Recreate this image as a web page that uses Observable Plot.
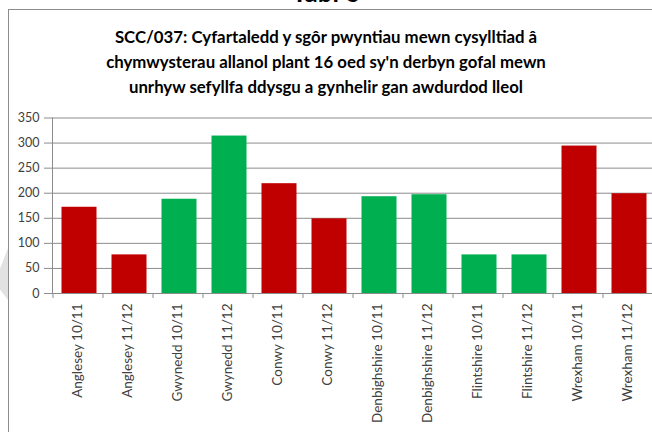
<!DOCTYPE html>
<html>
<head>
<meta charset="utf-8">
<script src="https://cdn.jsdelivr.net/npm/d3@7"></script>
<script src="https://cdn.jsdelivr.net/npm/@observablehq/plot@0.6"></script>
<style>
  html, body { margin: 0; padding: 0; background: #fff; }
  #wrap { position: relative; width: 652px; height: 432px; overflow: hidden; background: #fff; font-family: Lato, "Open Sans", sans-serif; }
  #tabl { position: absolute; left: 0; width: 652px; top: -23px; text-align: center; font-weight: bold; font-size: 26px; color: #000; line-height: 30px; }
  #box { position: absolute; left: 8px; top: 9px; width: 700px; height: 500px; border: 1px solid #8c8c8c; box-sizing: border-box; background: #fff; }
  #curl { position: absolute; left: 0; top: 248px; width: 8px; height: 52px; background: #e2e2e2; clip-path: polygon(0 40%, 100% 0, 100% 100%, 0 80%); }
  #title { position: absolute; left: 0; top: 24px; width: 652px; text-align: center; font-weight: bold; font-size: 16.8px; line-height: 25px; color: #000; }
  #chart { position: absolute; left: 0; top: 100px; }
</style>
</head>
<body>
<div id="wrap">
  <div id="tabl">Tabl 6</div>
  <div id="box"></div>
  <div id="curl"></div>
  <div id="title">SCC/037: Cyfartaledd y sgôr pwyntiau mewn cysylltiad â<br>chymwysterau allanol plant 16 oed sy'n derbyn gofal mewn<br>unrhyw sefyllfa ddysgu a gynhelir gan awdurdod lleol</div>
  <div id="chart"></div>
</div>
<script>
const categories = ["Anglesey 10/11", "Anglesey 11/12", "Gwynedd 10/11", "Gwynedd 11/12", "Conwy 10/11", "Conwy 11/12", "Denbighshire 10/11", "Denbighshire 11/12", "Flintshire 10/11", "Flintshire 11/12", "Wrexham 10/11", "Wrexham 11/12"];
const values = [172, 77, 188, 314, 219, 149, 193, 197, 77, 77, 294, 199];
const status = ["R", "R", "G", "G", "R", "R", "G", "G", "G", "G", "R", "R"];
const yTicks = [0, 50, 100, 150, 200, 250, 300, 350];

const data = categories.map((c, i) => ({name: c, value: values[i], status: status[i]}));

const gray = "#8c8c8c";
const textColor = "#404040";

const chart = Plot.plot({
  width: 652,
  height: 332,
  marginTop: 17.5,
  marginBottom: 139,
  marginLeft: 52,
  marginRight: 0,
  style: {fontFamily: "Lato, 'Open Sans', sans-serif", fontSize: "12.5px", background: "transparent"},
  x: {domain: categories, paddingInner: 0.3, paddingOuter: 0.15},
  y: {domain: [0, 350]},
  color: {type: "ordinal", domain: ["R", "G"], range: ["#C00000", "#00B050"]},
  marks: [
    Plot.gridY({ticks: yTicks, stroke: gray, strokeOpacity: 1}),
    Plot.barY(data, {x: "name", y: "value", fill: "status", dx: 1.5}),
    Plot.ruleY([0], {stroke: gray}),
    Plot.ruleX(categories, {x: d => d, dx: -25, y1: 0, y2: -10, stroke: gray}),
    Plot.frame({anchor: "left", stroke: gray}),
    Plot.axisY({ticks: yTicks, tickSize: 8, tickPadding: 5, stroke: gray, fill: textColor, label: null, fontSize: 12.5}),
    Plot.axisX({tickRotate: -90, tickSize: 0, tickPadding: 10, fill: textColor, label: null, fontSize: 13.5})
  ]
});
document.getElementById("chart").appendChild(chart);
</script>
</body>
</html>
